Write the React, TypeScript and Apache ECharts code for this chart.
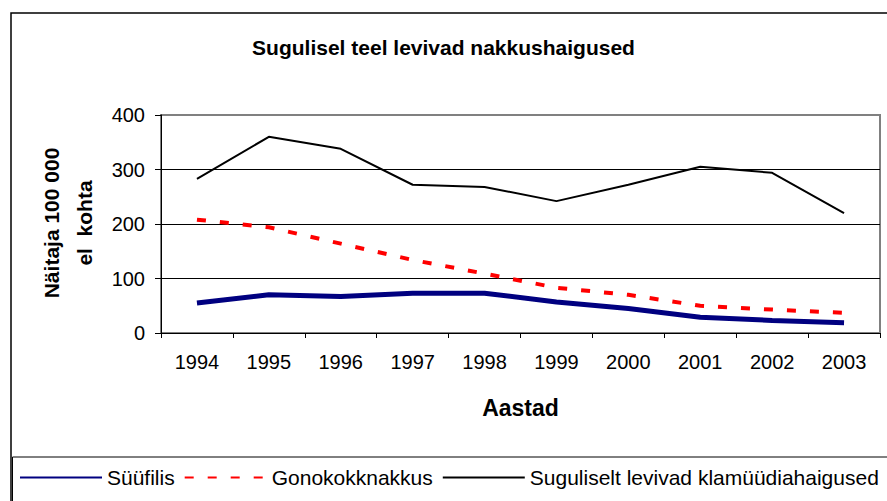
import React, { useEffect, useRef } from "react";
import * as echarts from "echarts";

const years = ["1994", "1995", "1996", "1997", "1998", "1999", "2000", "2001", "2002", "2003"];
const syphilis = [55, 70, 67, 73, 73, 57, 45, 29, 23, 19];
const gonorrhea = [208, 194, 164, 134, 109, 83, 70, 50, 43, 37];
const chlamydia = [283, 360, 338, 272, 268, 242, 272, 305, 294, 220];
const seriesNames = ["Süüfilis", "Gonokokknakkus", "Suguliselt levivad klamüüdiahaigused"];
const titleText = "Sugulisel teel levivad nakkushaigused";
const xName = "Aastad";
const yNameLines = ["Näitaja 100 000", "el  kohta"];

const FONT = "Arial, 'Liberation Sans', sans-serif";

export default function App() {
  const ref = useRef<HTMLDivElement>(null);
  useEffect(() => {
    if (!ref.current) return;
    const chart = echarts.init(ref.current, undefined, { renderer: "svg" });
    chart.setOption({
      animation: false,
      backgroundColor: "#fff",
      title: {
        text: titleText,
        left: "center",
        top: 32,
        textStyle: { fontFamily: FONT, fontSize: 21, fontWeight: "bold", color: "#000" },
      },
      grid: {
        left: 161,
        right: 7,
        top: 115,
        bottom: 168,
        show: true,
        borderColor: "#808080",
        borderWidth: 2,
        backgroundColor: "transparent",
        outerBoundsMode: "none",
      },
      legend: {
        left: 19,
        top: 467,
        padding: 0,
        itemWidth: 82,
        itemHeight: 20,
        itemGap: 9,
        data: seriesNames,
        itemStyle: { color: "transparent", borderColor: "transparent", borderWidth: 0, opacity: 0 },
        textStyle: { fontFamily: FONT, fontSize: 21, color: "#000" },
      },
      xAxis: {
        type: "category",
        data: years,
        boundaryGap: true,
        name: xName,
        nameLocation: "middle",
        nameGap: 63,
        nameTextStyle: { fontFamily: FONT, fontSize: 23, fontWeight: "bold", color: "#000" },
        axisLine: { show: true, lineStyle: { color: "#000", width: 1 } },
        axisTick: { show: true, length: 5, inside: false, lineStyle: { color: "#000" } },
        axisLabel: { fontFamily: FONT, fontSize: 20, color: "#000", margin: 19, interval: 0 },
        splitLine: { show: false },
      },
      yAxis: {
        type: "value",
        min: 0,
        max: 400,
        interval: 100,
        axisLine: { show: true, lineStyle: { color: "#000", width: 1 } },
        axisTick: { show: true, length: 6, lineStyle: { color: "#000" } },
        axisLabel: { fontFamily: FONT, fontSize: 20, color: "#000", margin: 16 },
        splitLine: {
          show: true,
          lineStyle: { color: ["#000", "#000", "#000", "#000", "#808080"], width: 1 },
        },
      },
      graphic: [
        {
          type: "rect",
          shape: { x: 11, y: 13, width: 900, height: 520 },
          style: { fill: "none", stroke: "#000", lineWidth: 1.5 },
          silent: true,
          z: 0,
        },
        {
          type: "rect",
          shape: { x: 12.5, y: 457, width: 900, height: 100 },
          style: { fill: "none", stroke: "#000", lineWidth: 1 },
          silent: true,
          z: 0,
        },
        {
          type: "text",
          x: 51,
          y: 223,
          rotation: Math.PI / 2,
          style: {
            text: yNameLines[0],
            fontFamily: FONT,
            fontSize: 21,
            fontWeight: "bold",
            fill: "#000",
            align: "center",
            verticalAlign: "middle",
          },
        },
        {
          type: "text",
          x: 84,
          y: 223,
          rotation: Math.PI / 2,
          style: {
            text: yNameLines[1],
            fontFamily: FONT,
            fontSize: 21,
            fontWeight: "bold",
            fill: "#000",
            align: "center",
            verticalAlign: "middle",
          },
        },
      ],
      series: [
        {
          name: seriesNames[0],
          type: "line",
          data: syphilis,
          symbol: "none",
          lineStyle: { color: "#000080", width: 5 },
          itemStyle: { color: "#000080" },
          z: 4,
        },
        {
          name: seriesNames[1],
          type: "line",
          data: gonorrhea,
          symbol: "none",
          lineStyle: { color: "#ff0000", width: 4, type: [9, 14] },
          itemStyle: { color: "#ff0000" },
          z: 3,
        },
        {
          name: seriesNames[2],
          type: "line",
          data: chlamydia,
          symbol: "none",
          lineStyle: { color: "#000", width: 2 },
          itemStyle: { color: "#000" },
          z: 2,
        },
      ],
    });
    return () => chart.dispose();
  }, []);
  return (
    <div
      ref={ref}
      style={{ position: "fixed", left: 0, top: 0, width: 887, height: 501, background: "#fff" }}
    />
  );
}
